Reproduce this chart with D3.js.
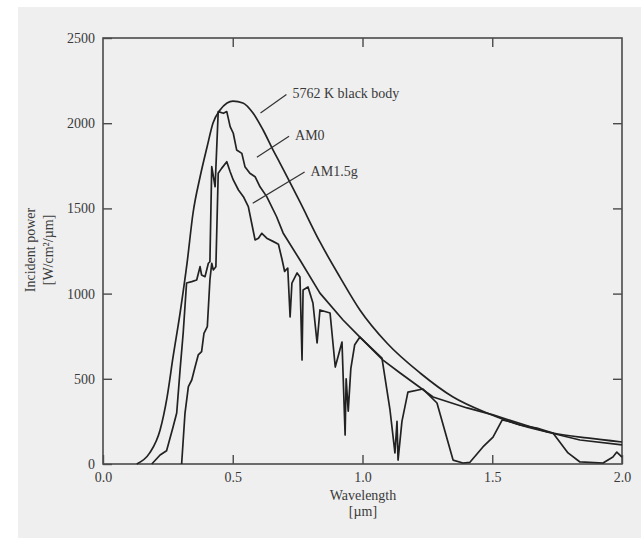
<!DOCTYPE html>
<html>
<head>
<meta charset="utf-8">
<script src="https://cdn.jsdelivr.net/npm/d3@7"></script>
<style>
  body { margin: 0; background: #fff; }
  svg { display: block; }
  text { font-family: "Liberation Serif", "DejaVu Serif", serif; fill: #3a3a3a; }
</style>
</head>
<body>
<div id="app"></div>
<script>
const WIDTH = 641;
const HEIGHT = 539;

// [wavelength um, power W/cm2/um]
const blackBody = [
  [0.13, 0], [0.18, 65], [0.22, 200], [0.247, 393], [0.27, 628], [0.297, 886],
  [0.324, 1180], [0.347, 1473], [0.374, 1684], [0.401, 1860], [0.424, 2001],
  [0.451, 2077], [0.478, 2119], [0.501, 2130], [0.539, 2119], [0.578, 2060],
  [0.617, 1960], [0.655, 1843], [0.682, 1766], [0.759, 1538], [0.836, 1303],
  [0.913, 1097], [0.99, 904], [1.094, 710], [1.222, 534], [1.349, 393],
  [1.48, 299], [1.607, 229], [1.734, 182], [1.865, 153], [2.0, 129]
];

const am0 = [
  [0.188, 0], [0.22, 53], [0.245, 78], [0.27, 217], [0.284, 299], [0.297, 552],
  [0.309, 769], [0.322, 1062], [0.342, 1070], [0.361, 1080], [0.374, 1158],
  [0.38, 1109], [0.393, 1099], [0.406, 1178], [0.412, 1187], [0.419, 1745],
  [0.432, 1627], [0.444, 2068], [0.464, 2058], [0.477, 2068], [0.49, 1980],
  [0.502, 1941], [0.515, 1843], [0.535, 1823], [0.547, 1745], [0.566, 1706],
  [0.586, 1686], [0.605, 1627], [0.631, 1569], [0.669, 1451], [0.694, 1356],
  [0.759, 1197], [0.836, 1003], [0.925, 845], [0.99, 745], [1.079, 610],
  [1.145, 534], [1.272, 393], [1.403, 329], [1.503, 288], [1.711, 188],
  [1.838, 141], [2.0, 112]
];

const am15g = [
  [0.303, 0], [0.316, 299], [0.329, 454], [0.342, 493], [0.355, 571], [0.367, 640],
  [0.38, 659], [0.389, 767], [0.402, 806], [0.412, 1080], [0.419, 1178],
  [0.425, 1139], [0.435, 1158], [0.444, 1706], [0.457, 1735], [0.477, 1774],
  [0.49, 1715], [0.502, 1667], [0.522, 1608], [0.541, 1569], [0.56, 1510],
  [0.573, 1413], [0.586, 1315], [0.599, 1325], [0.612, 1354], [0.631, 1325],
  [0.657, 1305], [0.676, 1290], [0.69, 1200], [0.7, 1130], [0.712, 1150],
  [0.721, 863], [0.728, 1062], [0.748, 1121], [0.759, 1097], [0.767, 610],
  [0.771, 1021], [0.79, 1039], [0.809, 945], [0.825, 710], [0.836, 904],
  [0.875, 886], [0.895, 569], [0.921, 716], [0.933, 170], [0.937, 500],
  [0.945, 310], [0.955, 560], [0.97, 700], [0.99, 745], [1.075, 622],
  [1.106, 317], [1.125, 65], [1.133, 250], [1.137, 23], [1.152, 250],
  [1.175, 422], [1.233, 440], [1.287, 358], [1.349, 23], [1.387, 6],
  [1.414, 10], [1.464, 100], [1.503, 158], [1.538, 258], [1.576, 246],
  [1.607, 229], [1.672, 211], [1.734, 182], [1.792, 65], [1.838, 12],
  [1.927, 6], [1.965, 41], [1.98, 70], [2.0, 41]
];

const xTicks = [0, 0.5, 1, 1.5, 2];
const yTicks = [0, 500, 1000, 1500, 2000, 2500];

// curve labels: text, anchor point on curve [um, W], text position [um, W]
const callouts = [
  { text: '5762 K black body', from: [0.607, 2060], to: [0.73, 2145] },
  { text: 'AM0', from: [0.593, 1800], to: [0.74, 1900] },
  { text: 'AM1.5g', from: [0.577, 1530], to: [0.8, 1690] }
];

const svg = d3.select('#app')
  .append('svg')
    .attr('width', WIDTH)
    .attr('height', HEIGHT);

// scanned paper
svg.append('rect')
  .attr('x', 18).attr('y', 7)
  .attr('width', WIDTH - 18).attr('height', 531)
  .attr('fill', '#efefef');

const x = d3.scaleLinear().domain([0, 2]).range([103, 622]);
const y = d3.scaleLinear().domain([0, 2500]).range([464, 38]);

const styleAxis = g => {
  g.select('.domain').remove();
  g.selectAll('.tick line').attr('stroke', '#4a4a4a').attr('stroke-width', 1.4);
  g.selectAll('.tick text')
    .attr('fill', '#3a3a3a')
    .style('font-family', '"Liberation Serif", serif')
    .style('font-size', '14px');
};

svg.append('g')
  .attr('transform', `translate(0, ${y(0)})`)
  .call(d3.axisBottom(x).tickValues(xTicks).tickSize(-9).tickPadding(8).tickFormat(d3.format('.1f')))
  .call(styleAxis);

svg.append('g')
  .attr('transform', `translate(${x(0)}, 0)`)
  .call(d3.axisLeft(y).tickValues(yTicks).tickSize(-9).tickPadding(8).tickFormat(d3.format('d')))
  .call(styleAxis);

svg.append('g')
  .attr('transform', `translate(0, ${y(2500)})`)
  .call(d3.axisTop(x).tickValues(xTicks.slice(1, -1)).tickSize(-9).tickFormat(''))
  .call(styleAxis);

svg.append('g')
  .attr('transform', `translate(${x(2)}, 0)`)
  .call(d3.axisRight(y).tickValues(yTicks.slice(1, -1)).tickSize(-9).tickFormat(''))
  .call(styleAxis);

// frame
svg.append('rect')
  .attr('x', x(0)).attr('y', y(2500))
  .attr('width', x(2) - x(0)).attr('height', y(0) - y(2500))
  .attr('fill', 'none')
  .attr('stroke', '#4a4a4a')
  .attr('stroke-width', 1.6);

const smooth = d3.line().x(d => x(d[0])).y(d => y(d[1])).curve(d3.curveMonotoneX);
const jagged = d3.line().x(d => x(d[0])).y(d => y(d[1]));

[[blackBody, smooth], [am0, jagged], [am15g, jagged]].forEach(([data, line]) => {
  svg.append('path')
    .attr('d', line(data))
    .attr('fill', 'none')
    .attr('stroke', '#222')
    .attr('stroke-width', 1.7)
    .attr('stroke-linejoin', 'round');
});

callouts.forEach(c => {
  svg.append('line')
    .attr('x1', x(c.from[0])).attr('y1', y(c.from[1]))
    .attr('x2', x(c.to[0]) - 6).attr('y2', y(c.to[1]) - 4)
    .attr('stroke', '#333')
    .attr('stroke-width', 1.2);
  svg.append('text')
    .attr('x', x(c.to[0]))
    .attr('y', y(c.to[1]))
    .attr('font-size', 14)
    .text(c.text);
});

// axis titles
svg.append('text')
  .attr('transform', 'translate(35, 250) rotate(-90)')
  .attr('text-anchor', 'middle')
  .attr('font-size', 14)
  .text('Incident power');
svg.append('text')
  .attr('transform', 'translate(53, 250) rotate(-90)')
  .attr('text-anchor', 'middle')
  .attr('font-size', 14)
  .text('[W/cm²/µm]');

svg.append('text')
  .attr('x', 363).attr('y', 500)
  .attr('text-anchor', 'middle')
  .attr('font-size', 14)
  .text('Wavelength');
svg.append('text')
  .attr('x', 363).attr('y', 516)
  .attr('text-anchor', 'middle')
  .attr('font-size', 14)
  .text('[µm]');
</script>
</body>
</html>
